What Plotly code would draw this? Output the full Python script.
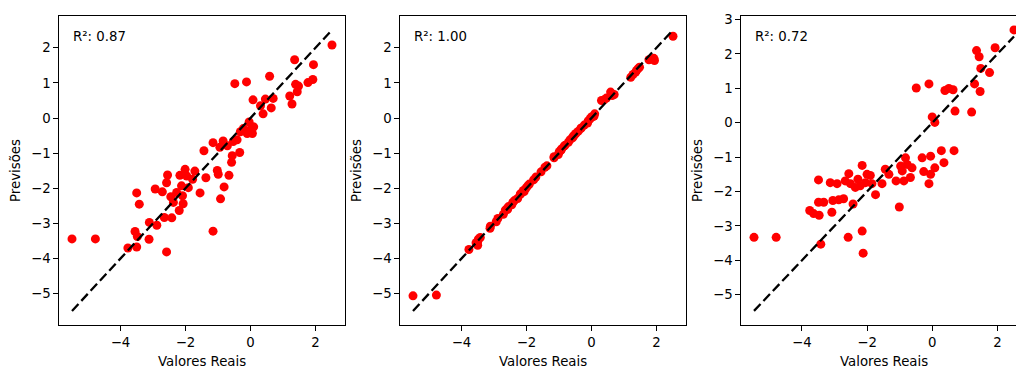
import plotly.graph_objects as go

# ---------------- data ----------------
# Panel 1 / Panel 2 share the same real values
y_real = [-5.49, -4.77, -3.77, -3.50, -3.55, -3.48, -3.50, -3.42, -3.12, -3.11,
          -2.93, -2.88, -2.71, -2.65, -2.58, -2.55, -2.58, -2.45, -2.42, -2.37,
          -2.27, -2.19, -2.17, -2.12, -2.07, -2.09, -2.01, -1.96, -1.91, -1.78,
          -1.71, -1.55, -1.43, -1.37, -1.15, -1.15, -1.02, -0.99, -0.94, -0.92,
          -0.84, -0.81, -0.71, -0.66, -0.58, -0.56, -0.53, -0.48, -0.41, -0.33,
          -0.31, -0.22, -0.12, -0.10, -0.04, 0.00, 0.06, 0.08, 0.10, 0.31,
          0.39, 0.46, 0.59, 0.64, 0.70, 1.21, 1.28, 1.36, 1.39, 1.44,
          1.48, 1.77, 1.92, 1.94, 2.51]
pred_model1 = [-3.44, -3.44, -3.70, -3.67, -3.23, -3.37, -2.13, -2.45, -3.45, -2.97,
               -2.02, -3.05, -2.10, -2.83, -3.81, -1.62, -1.84, -2.24, -2.84, -2.40,
               -2.12, -2.63, -1.63, -1.93, -2.44, -2.21, -1.46, -1.65, -1.98, -1.74,
               -1.51, -2.13, -0.93, -1.70, -0.70, -3.22, -1.49, -1.60, -0.83, -2.30,
               -0.65, -1.96, -0.79, -1.63, -1.26, -1.07, -0.67, 0.98, -0.62, -0.98,
               -0.39, -0.30, 1.03, -0.44, -0.11, -0.33, -0.44, 0.52, -0.25, 0.35,
               0.12, 0.54, 1.19, 0.29, 0.56, 0.63, 0.40, 1.66, 0.96, 0.75,
               0.91, 1.01, 1.10, 1.52, 2.08]
pred_model2 = [-5.06, -5.04, -3.74, -3.62, -3.55, -3.45, -3.52, -3.40, -3.14, -3.08,
               -2.95, -2.86, -2.74, -2.62, -2.60, -2.52, -2.56, -2.47, -2.40, -2.35,
               -2.29, -2.17, -2.15, -2.10, -2.09, -2.06, -1.99, -1.93, -1.88, -1.76,
               -1.68, -1.53, -1.40, -1.36, -1.13, -1.10, -1.04, -0.96, -0.92, -0.88,
               -0.80, -0.77, -0.69, -0.62, -0.56, -0.52, -0.49, -0.44, -0.38, -0.30,
               -0.28, -0.20, -0.14, -0.08, -0.02, 0.03, 0.05, 0.06, 0.12, 0.50,
               0.52, 0.57, 0.74, 0.64, 0.67, 1.16, 1.24, 1.31, 1.36, 1.41,
               1.45, 1.66, 1.70, 1.64, 2.33]

# Panel 3 (model 3)
y_real_m3 = [-5.47, -4.79, -3.76, -3.64, -3.49, -3.47, -3.42, -3.49, -3.33, -3.13,
             -3.08, -3.05, -2.92, -2.87, -2.72, -2.67, -2.56, -2.58, -2.51, -2.43,
             -2.36, -2.28, -2.21, -2.15, -2.15, -2.12, -2.05, -2.00, -1.90, -1.85,
             -1.74, -1.54, -1.44, -1.33, -1.11, -1.01, -0.97, -0.92, -0.87, -0.82,
             -0.77, -0.67, -0.62, -0.49, -0.31, -0.26, -0.10, -0.10, -0.05, 0.00,
             -0.05, 0.08, 0.08, 0.28, 0.36, 0.39, 0.51, 0.64, 0.67, 0.70,
             1.21, 1.30, 1.36, 1.44, 1.47, 1.49, 1.76, 1.93, 2.51]
pred_model3 = [-3.33, -3.33, -2.55, -2.64, -1.66, -2.69, -3.53, -2.31, -2.31, -1.74,
               -2.60, -2.26, -1.77, -2.24, -2.21, -1.69, -1.48, -3.33, -1.77, -2.36,
               -1.88, -1.64, -1.83, -1.24, -3.15, -3.79, -1.74, -1.50, -1.53, -1.77,
               -2.09, -1.77, -1.35, -1.50, -1.69, -2.45, -1.26, -1.40, -1.69, -1.02,
               -1.21, -1.59, -1.31, 1.01, -1.02, -1.42, -1.77, 1.13, -0.97, 0.17,
               -1.50, 0.01, -1.31, -0.81, -1.16, 0.94, 1.00, 0.96, -0.81, 0.34,
               0.31, 1.13, 2.10, 1.92, 0.91, 1.58, 1.46, 2.18, 2.70]

r2_labels = ["R²: 0.87", "R²: 1.00", "R²: 0.72"]
x_label = "Valores Reais"
y_label = "Previsões"
x_ticks = [-4, -2, 0, 2]
y_ticks_a = [-5, -4, -3, -2, -1, 0, 1, 2]
y_ticks_b = [-5, -4, -3, -2, -1, 0, 1, 2, 3]

panels = [
    (y_real, pred_model1, r2_labels[0], y_ticks_a),
    (y_real, pred_model2, r2_labels[1], y_ticks_a),
    (y_real_m3, pred_model3, r2_labels[2], y_ticks_b),
]

# ---------------- layout geometry (pixels) ----------------
W, H = 1016, 367
px_left = [59, 400, 741]
ax_w = 286
ax_top, ax_bot = 12, 324.5
FONT = "DejaVu Sans"
FS = 13.3

fig = go.Figure()
annotations = []
for i, (xr, yp, r2, yt) in enumerate(panels):
    n = i + 1
    xs = "x" if n == 1 else f"x{n}"
    ys = "y" if n == 1 else f"y{n}"
    lo, hi = min(xr), max(xr)
    # scatter points
    fig.add_trace(go.Scatter(x=xr, y=yp, mode="markers", xaxis=xs, yaxis=ys,
                             marker=dict(color="red", size=9, line=dict(width=0)),
                             showlegend=False, cliponaxis=True))
    # identity line
    fig.add_trace(go.Scatter(x=[lo, hi], y=[lo, hi], mode="lines", xaxis=xs, yaxis=ys,
                             line=dict(color="black", width=2.3, dash="9.5px,4.2px"),
                             showlegend=False))
    # ranges with 5% margins (matplotlib style)
    xpad = 0.05 * (hi - lo)
    xlo, xhi = lo - xpad, hi + xpad
    ylo_d, yhi_d = min(min(yp), lo), max(max(yp), hi)
    ypad = 0.05 * (yhi_d - ylo_d)
    ylo, yhi = ylo_d - ypad, yhi_d + ypad

    left = px_left[i]
    right = left + ax_w
    if right > W:  # last panel is cut off at the image border
        xhi = xlo + (xhi - xlo) * (W - left) / ax_w
        right = W
    xdom = [left / W, right / W]
    ydom = [1 - ax_bot / H, 1 - ax_top / H]

    common = dict(showline=True, linecolor="black", linewidth=1, ticks="outside",
                  ticklen=4.7, tickwidth=1, tickcolor="black", showgrid=False,
                  zeroline=False, tickfont=dict(family=FONT, size=FS, color="black"))
    fig.update_layout(**{
        ("xaxis" if n == 1 else f"xaxis{n}"): dict(
            domain=xdom, range=[xlo, xhi], anchor=ys, tickvals=x_ticks,
            mirror=True, **common),
        ("yaxis" if n == 1 else f"yaxis{n}"): dict(
            domain=ydom, range=[ylo, yhi], anchor=xs, tickvals=yt,
            mirror=(n != 3), **common),
    })
    # R² text
    annotations.append(dict(text=r2, xref="paper", yref="paper",
                            x=(left + 0.05 * ax_w - 1.5) / W,
                            y=1 - 32.8 / H,
                            xanchor="left", yanchor="middle", showarrow=False,
                            borderpad=0, font=dict(family=FONT, size=FS, color="black")))
    # axis titles
    annotations.append(dict(text=x_label, xref="paper", yref="paper",
                            x=(left + ax_w / 2) / W, y=1 - 352.5 / H,
                            xanchor="center", yanchor="top", showarrow=False,
                            borderpad=0, font=dict(family=FONT, size=FS, color="black")))
    annotations.append(dict(text=y_label, xref="paper", yref="paper",
                            x=(left - 43.5) / W, y=1 - ((ax_top + ax_bot) / 2) / H,
                            xanchor="center", yanchor="middle", textangle=-90,
                            showarrow=False, borderpad=0,
                            font=dict(family=FONT, size=FS, color="black")))

fig.update_layout(width=W, height=H, margin=dict(l=0, r=0, t=0, b=0),
                  paper_bgcolor="white", plot_bgcolor="white",
                  annotations=annotations, font=dict(family=FONT, size=FS))

# remove the default page margin so the figure fills the window exactly
fig.write_html("out.html",
               config={"displayModeBar": False},
               post_script="document.body.style.margin='0';"
                           "document.body.style.overflow='hidden';")
